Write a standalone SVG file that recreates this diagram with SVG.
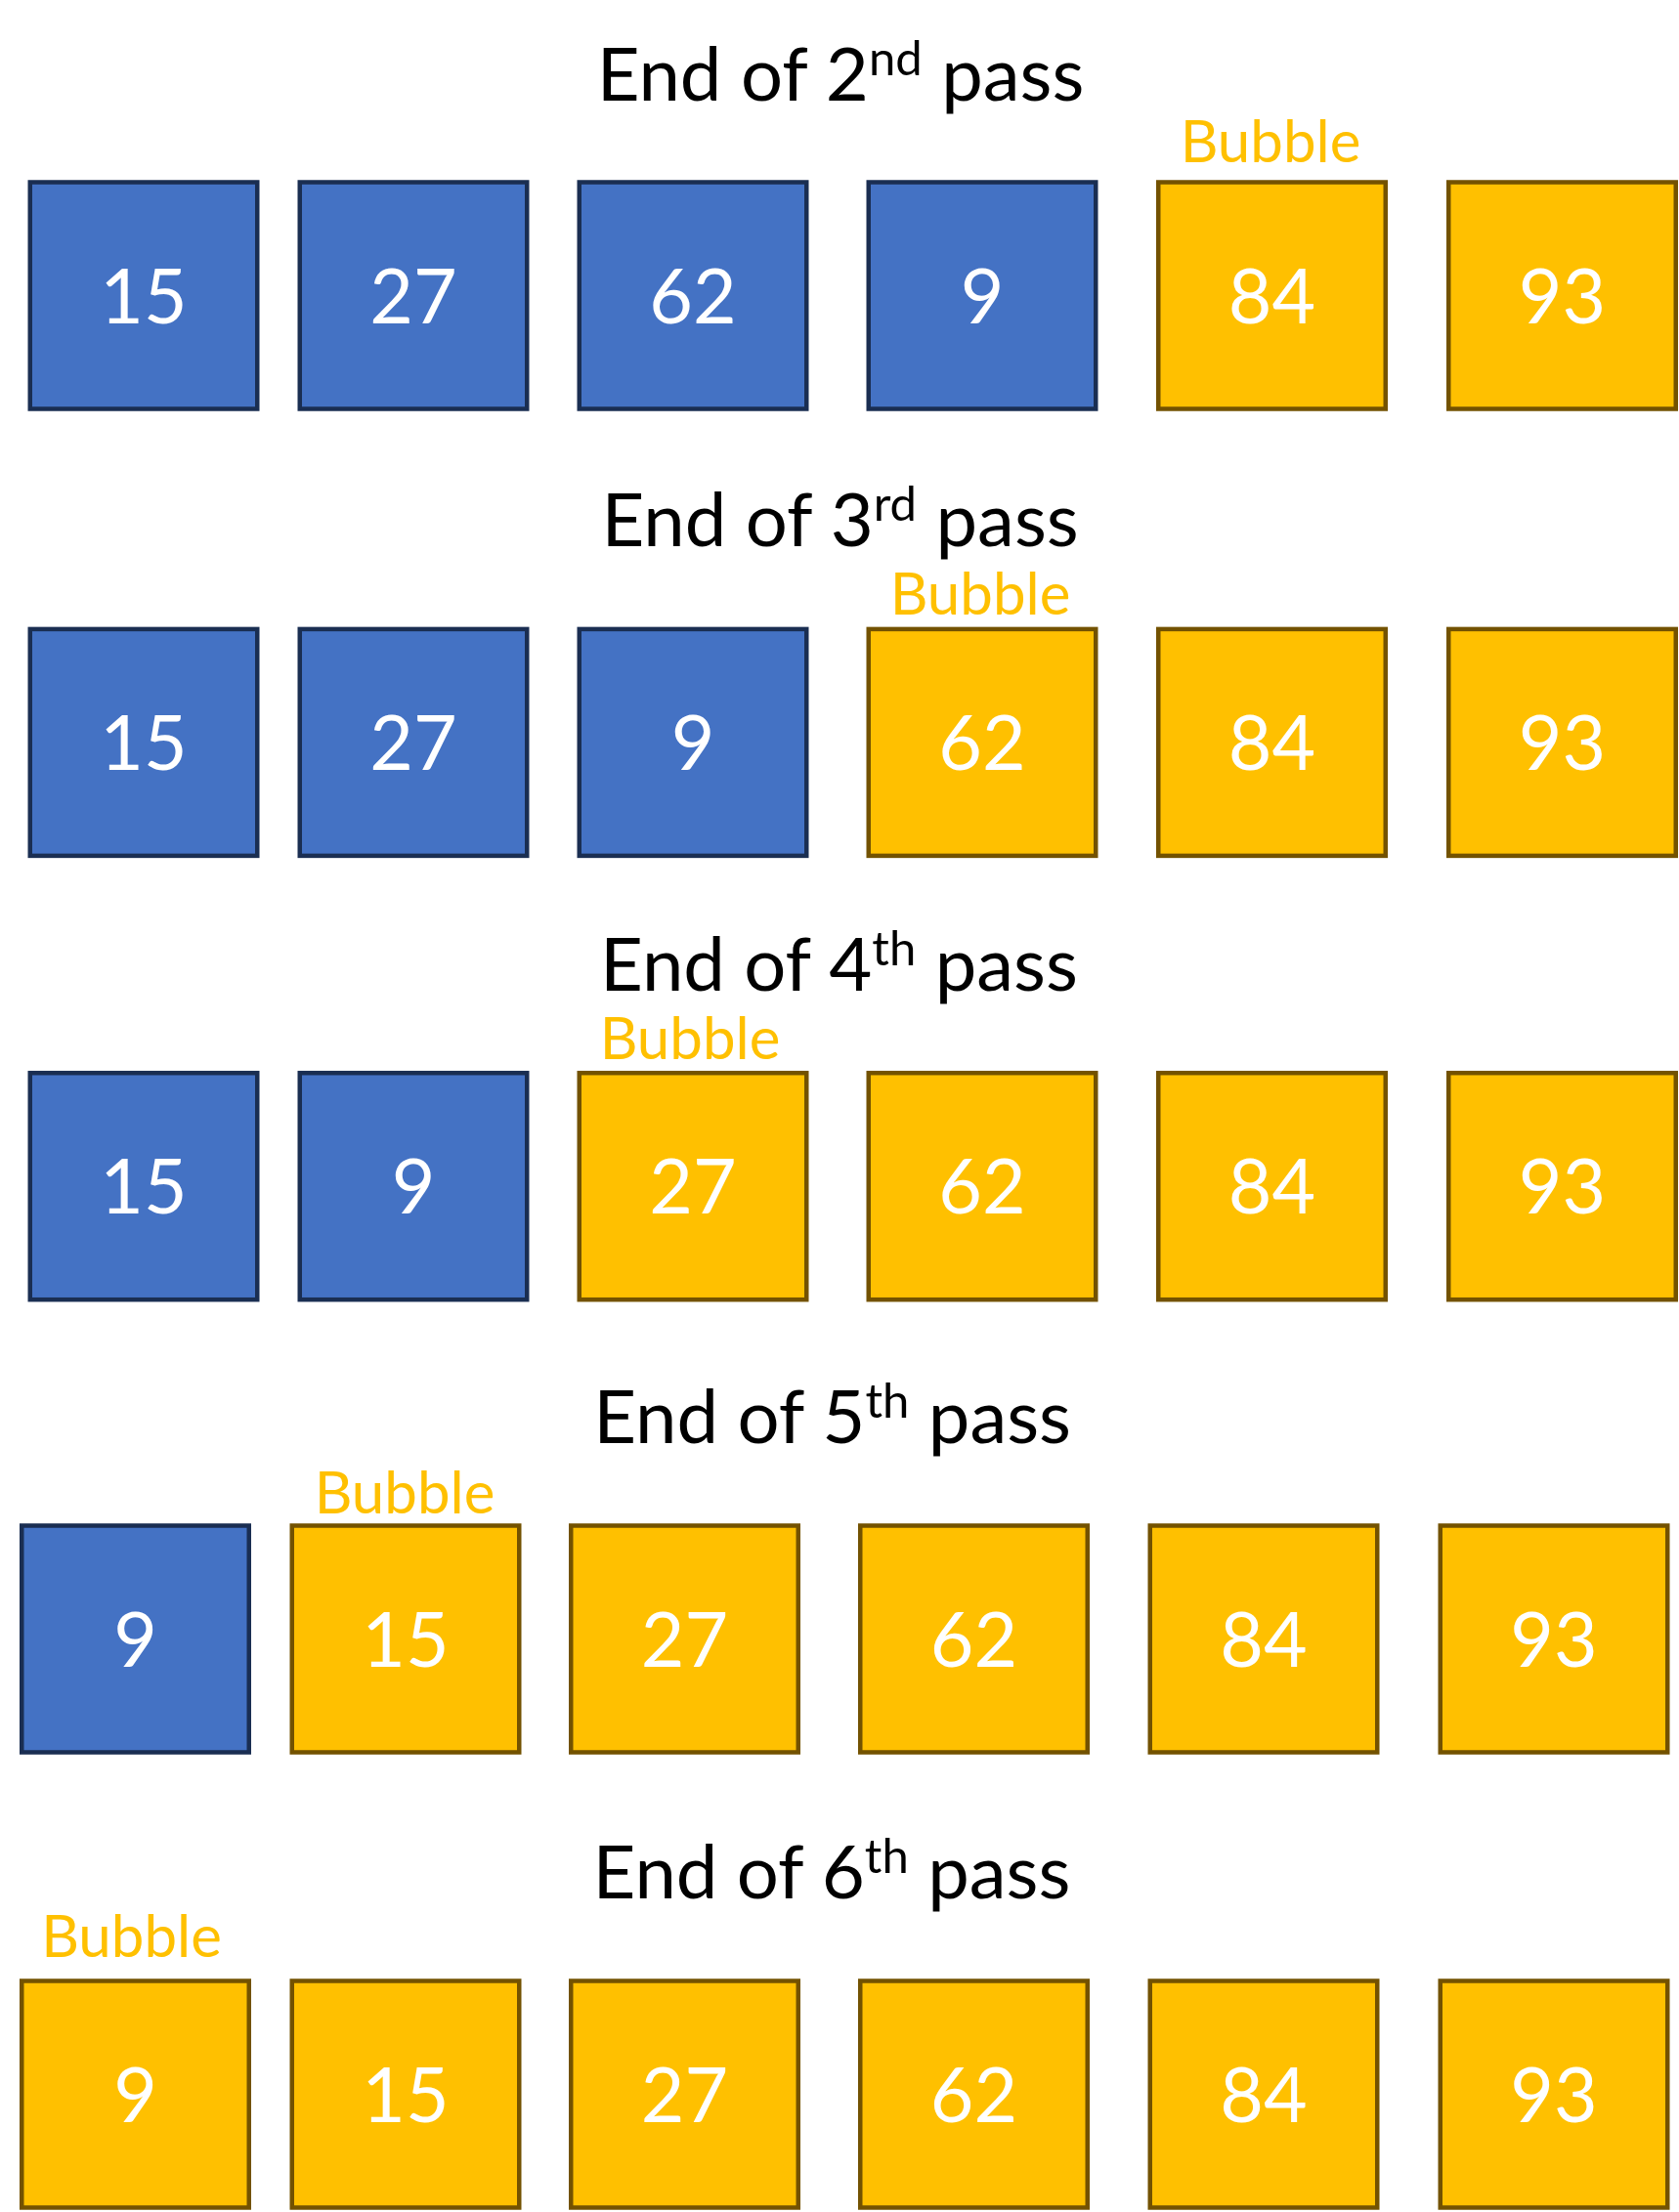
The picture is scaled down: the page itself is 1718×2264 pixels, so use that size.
<svg xmlns="http://www.w3.org/2000/svg" width="1718" height="2264" viewBox="0 0 1718 2264">
<style>
.bg{fill:#ffffff}
.blue rect{fill:#4472C4;stroke:#1A2E52;stroke-width:4.5}
.gold rect{fill:#FFC000;stroke:#735200;stroke-width:4.5}
.num{font-family:Lato,"Open Sans",sans-serif;font-size:77px;fill:#ffffff;text-anchor:middle}
.title{font-family:Lato,"Open Sans",sans-serif;font-size:76px;fill:#000000;text-anchor:middle}
.sup{font-size:49px}
.bubble{font-family:Lato,"Open Sans",sans-serif;font-size:60px;fill:#FFC000;text-anchor:middle}
</style>
<rect class="bg" x="0" y="0" width="1718" height="2264"/>
<g id="connectors"/>

<!-- Row 1 -->
<g id="title1"><text class="title" x="860" y="102.7">End of 2<tspan class="sup" dy="-26">nd</tspan><tspan dy="26"> pass</tspan></text></g>
<g id="bubble1"><text class="bubble" x="1300" y="165.7">Bubble</text></g>
<g id="r1b1" class="blue"><rect x="30.75" y="186.5" width="232.5" height="232"/><text class="num" x="147" y="330.6">15</text></g>
<g id="r1b2" class="blue"><rect x="306.75" y="186.5" width="232.5" height="232"/><text class="num" x="423" y="330.6">27</text></g>
<g id="r1b3" class="blue"><rect x="592.75" y="186.5" width="232.5" height="232"/><text class="num" x="709" y="330.6">62</text></g>
<g id="r1b4" class="blue"><rect x="888.75" y="186.5" width="232.5" height="232"/><text class="num" x="1005" y="330.6">9</text></g>
<g id="r1b5" class="gold"><rect x="1185.25" y="186.5" width="232.5" height="232"/><text class="num" x="1301.5" y="330.6">84</text></g>
<g id="r1b6" class="gold"><rect x="1482.25" y="186.5" width="232.5" height="232"/><text class="num" x="1598.5" y="330.6">93</text></g>

<!-- Row 2 -->
<g id="title2"><text class="title" x="859.6" y="559">End of 3<tspan class="sup" dy="-26">rd</tspan><tspan dy="26"> pass</tspan></text></g>
<g id="bubble2"><text class="bubble" x="1003" y="628.7">Bubble</text></g>
<g id="r2b1" class="blue"><rect x="30.75" y="643.9" width="232.5" height="232"/><text class="num" x="147" y="788">15</text></g>
<g id="r2b2" class="blue"><rect x="306.75" y="643.9" width="232.5" height="232"/><text class="num" x="423" y="788">27</text></g>
<g id="r2b3" class="blue"><rect x="592.75" y="643.9" width="232.5" height="232"/><text class="num" x="709" y="788">9</text></g>
<g id="r2b4" class="gold"><rect x="888.75" y="643.9" width="232.5" height="232"/><text class="num" x="1005" y="788">62</text></g>
<g id="r2b5" class="gold"><rect x="1185.25" y="643.9" width="232.5" height="232"/><text class="num" x="1301.5" y="788">84</text></g>
<g id="r2b6" class="gold"><rect x="1482.25" y="643.9" width="232.5" height="232"/><text class="num" x="1598.5" y="788">93</text></g>

<!-- Row 3 -->
<g id="title3"><text class="title" x="858.5" y="1013.5">End of 4<tspan class="sup" dy="-26">th</tspan><tspan dy="26"> pass</tspan></text></g>
<g id="bubble3"><text class="bubble" x="706" y="1084">Bubble</text></g>
<g id="r3b1" class="blue"><rect x="30.75" y="1098.2" width="232.5" height="232"/><text class="num" x="147" y="1242.3">15</text></g>
<g id="r3b2" class="blue"><rect x="306.75" y="1098.2" width="232.5" height="232"/><text class="num" x="423" y="1242.3">9</text></g>
<g id="r3b3" class="gold"><rect x="592.75" y="1098.2" width="232.5" height="232"/><text class="num" x="709" y="1242.3">27</text></g>
<g id="r3b4" class="gold"><rect x="888.75" y="1098.2" width="232.5" height="232"/><text class="num" x="1005" y="1242.3">62</text></g>
<g id="r3b5" class="gold"><rect x="1185.25" y="1098.2" width="232.5" height="232"/><text class="num" x="1301.5" y="1242.3">84</text></g>
<g id="r3b6" class="gold"><rect x="1482.25" y="1098.2" width="232.5" height="232"/><text class="num" x="1598.5" y="1242.3">93</text></g>

<!-- Row 4 -->
<g id="title4"><text class="title" x="851.6" y="1476.7">End of 5<tspan class="sup" dy="-26">th</tspan><tspan dy="26"> pass</tspan></text></g>
<g id="bubble4"><text class="bubble" x="414" y="1549">Bubble</text></g>
<g id="r4b1" class="blue"><rect x="22.25" y="1561.5" width="232.5" height="232"/><text class="num" x="138.5" y="1705.6">9</text></g>
<g id="r4b2" class="gold"><rect x="298.75" y="1561.5" width="232.5" height="232"/><text class="num" x="415" y="1705.6">15</text></g>
<g id="r4b3" class="gold"><rect x="584.25" y="1561.5" width="232.5" height="232"/><text class="num" x="700.5" y="1705.6">27</text></g>
<g id="r4b4" class="gold"><rect x="880.25" y="1561.5" width="232.5" height="232"/><text class="num" x="996.5" y="1705.6">62</text></g>
<g id="r4b5" class="gold"><rect x="1176.75" y="1561.5" width="232.5" height="232"/><text class="num" x="1293" y="1705.6">84</text></g>
<g id="r4b6" class="gold"><rect x="1473.75" y="1561.5" width="232.5" height="232"/><text class="num" x="1590" y="1705.6">93</text></g>

<!-- Row 5 -->
<g id="title5"><text class="title" x="851" y="1942.7">End of 6<tspan class="sup" dy="-26">th</tspan><tspan dy="26"> pass</tspan></text></g>
<g id="bubble5"><text class="bubble" x="134.5" y="2003.3">Bubble</text></g>
<g id="r5b1" class="gold"><rect x="22.25" y="2027.5" width="232.5" height="232"/><text class="num" x="138.5" y="2171.6">9</text></g>
<g id="r5b2" class="gold"><rect x="298.75" y="2027.5" width="232.5" height="232"/><text class="num" x="415" y="2171.6">15</text></g>
<g id="r5b3" class="gold"><rect x="584.25" y="2027.5" width="232.5" height="232"/><text class="num" x="700.5" y="2171.6">27</text></g>
<g id="r5b4" class="gold"><rect x="880.25" y="2027.5" width="232.5" height="232"/><text class="num" x="996.5" y="2171.6">62</text></g>
<g id="r5b5" class="gold"><rect x="1176.75" y="2027.5" width="232.5" height="232"/><text class="num" x="1293" y="2171.6">84</text></g>
<g id="r5b6" class="gold"><rect x="1473.75" y="2027.5" width="232.5" height="232"/><text class="num" x="1590" y="2171.6">93</text></g>
</svg>
